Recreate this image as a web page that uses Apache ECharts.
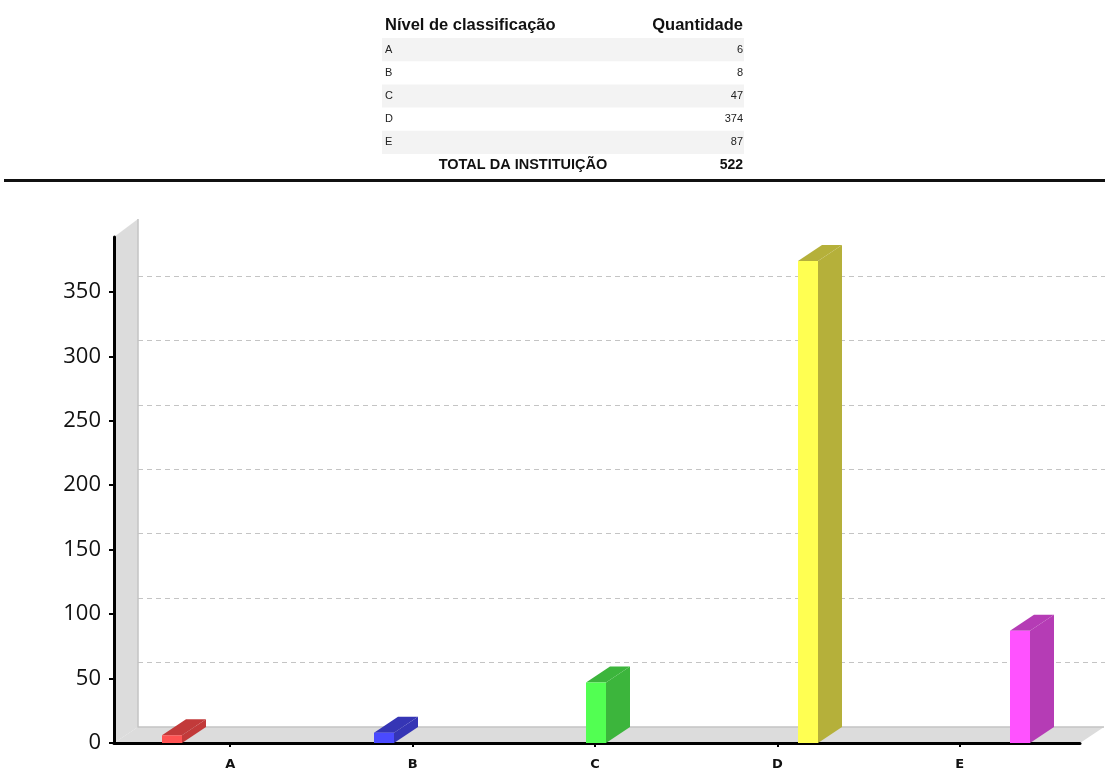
<!DOCTYPE html>
<html>
<head>
<meta charset="utf-8">
<script src="https://cdn.jsdelivr.net/npm/echarts@6/dist/echarts.min.js"></script>
<style>
  html, body { margin: 0; padding: 0; background: #fff; }
  #main { width: 1105px; height: 771px; }
</style>
</head>
<body>
<div id="main"></div>
<script>
// data
var categories = ['A', 'B', 'C', 'D', 'E'];
var values = [6, 8, 47, 374, 87];
var yTicks = [0, 50, 100, 150, 200, 250, 300, 350];
var headerLabels = ['Nível de classificação', 'Quantidade'];
var totalLabel = 'TOTAL DA INSTITUIÇÃO';
var frontColors = ['#ff5252', '#4a4aff', '#52ff52', '#ffff52', '#ff52ff'];
var sideColors = ['#c23a3a', '#3535b5', '#3cb53c', '#b5b03a', '#b53cb5'];

var yMax = 392.6;
var DX = 24, DY = 16;   // 3d depth offset
var plotTop = 237, plotH = 506, frontLeft = 114, frontRight = 1080;
var fontUI = '"Liberation Sans", Arial, sans-serif';

var myChart = echarts.init(document.getElementById('main'));

// table on top
var graphics = [];
var tL = 382, tR = 744, rowH = 23.2, firstRowTop = 38;
categories.forEach(function (c, i) {
  var top = firstRowTop + i * rowH;
  if (i % 2 === 0) {
    graphics.push({ type: 'rect', shape: { x: tL, y: top, width: tR - tL, height: rowH }, style: { fill: '#f3f3f3' }, silent: true });
  }
  graphics.push({ type: 'text', x: tL + 3, y: top + rowH / 2, style: { text: c, font: '11px ' + fontUI, fill: '#222', verticalAlign: 'middle' } });
  graphics.push({ type: 'text', x: tR - 1, y: top + rowH / 2, style: { text: String(values[i]), font: '11px ' + fontUI, fill: '#222', align: 'right', verticalAlign: 'middle' } });
});
graphics.push({ type: 'text', x: tL + 3, y: 25, style: { text: headerLabels[0], font: 'bold 16.5px ' + fontUI, fill: '#111', verticalAlign: 'middle' } });
graphics.push({ type: 'text', x: tR - 1, y: 25, style: { text: headerLabels[1], font: 'bold 16.5px ' + fontUI, fill: '#111', align: 'right', verticalAlign: 'middle' } });
var total = values.reduce(function (a, b) { return a + b; }, 0);
graphics.push({ type: 'text', x: 523, y: 165, style: { text: totalLabel, font: 'bold 14.5px ' + fontUI, fill: '#111', align: 'center', verticalAlign: 'middle' } });
graphics.push({ type: 'text', x: tR - 1, y: 165, style: { text: String(total), font: 'bold 14px ' + fontUI, fill: '#111', align: 'right', verticalAlign: 'middle' } });
graphics.push({ type: 'rect', shape: { x: 4, y: 179, width: 1101, height: 3 }, style: { fill: '#111' }, silent: true });

// wall and floor of the 3d box
var bot = plotTop + plotH;
graphics.push({ type: 'polygon', z: -1, shape: { points: [[frontLeft, plotTop], [frontLeft + DX, plotTop - DY - 2], [frontLeft + DX, bot - DY], [frontLeft, bot]] }, style: { fill: '#dcdcdc' }, silent: true });
graphics.push({ type: 'polygon', z: -1, shape: { points: [[frontLeft, bot], [frontLeft + DX, bot - DY], [frontRight + DX, bot - DY], [frontRight, bot]] }, style: { fill: '#dcdcdc' }, silent: true });
graphics.push({ type: 'polyline', z: -1, shape: { points: [[frontLeft + DX, plotTop - DY - 2], [frontLeft + DX, bot - DY], [frontRight + DX, bot - DY]] }, style: { stroke: '#c4c4c4', lineWidth: 1.5, fill: null }, silent: true });

function hiddenY(idx) {
  return { gridIndex: idx, type: 'value', min: 0, max: yMax, interval: 50, show: false, splitLine: { show: false } };
}

myChart.setOption({
  backgroundColor: '#fff',
  animation: false,
  graphic: graphics,
  grid: [
    { left: frontLeft, top: plotTop, width: frontRight - frontLeft, height: plotH },
    { left: frontLeft + DX, top: plotTop - DY, width: 1105 - frontLeft - DX, height: plotH },
    { left: 139, top: plotTop, width: 912, height: plotH },
    { left: 172, top: plotTop, width: 848, height: plotH }
  ],
  xAxis: [
    { gridIndex: 0, type: 'value', min: 0, max: 1, axisLine: { show: true, lineStyle: { color: '#000', width: 3 } }, axisTick: { show: false }, axisLabel: { show: false }, splitLine: { show: false } },
    { gridIndex: 1, type: 'value', min: 0, max: 1, show: false, splitLine: { show: false } },
    { gridIndex: 2, type: 'category', data: categories,
      axisLine: { show: false },
      axisTick: { show: true, alignWithLabel: true, length: 5, lineStyle: { color: '#000', width: 2 } },
      axisLabel: { fontSize: 13, fontWeight: 'bold', color: '#111', margin: 16, fontFamily: '"DejaVu Sans", sans-serif' } },
    { gridIndex: 3, type: 'category', data: categories, boundaryGap: false, show: false }
  ],
  yAxis: [
    { gridIndex: 0, type: 'value', min: 0, max: yMax, interval: 50,
      axisLine: { show: true, lineStyle: { color: '#000', width: 3 } },
      axisTick: { show: true, length: 5, customValues: yTicks, lineStyle: { color: '#000', width: 2 } },
      axisLabel: { customValues: yTicks, fontSize: 22, color: '#111', margin: 13, fontFamily: '"Open Sans", sans-serif' },
      splitLine: { show: false } },
    { gridIndex: 1, type: 'value', min: 0, max: yMax, interval: 50, show: true,
      axisLine: { show: false }, axisTick: { show: false }, axisLabel: { show: false },
      splitLine: { show: true, showMinLine: false, showMaxLine: false, lineStyle: { color: '#c4c4c4', type: [5, 4], width: 1 } } },
    hiddenY(2),
    hiddenY(3)
  ],
  series: [{
    type: 'custom',
    xAxisIndex: 3,
    yAxisIndex: 3,
    z: 5,
    data: values.map(function (v, i) { return [categories[i], v]; }),
    renderItem: function (params, api) {
      var i = params.dataIndex;
      var base = api.coord([api.value(0), 0]);
      var top = api.coord([api.value(0), api.value(1)]);
      var hw = 10;
      var x0 = base[0] - hw, x1 = base[0] + hw;
      return {
        type: 'group',
        children: [
          { type: 'polygon', shape: { points: [[x1, top[1]], [x1 + DX, top[1] - DY], [x1 + DX, base[1] - DY], [x1, base[1]]] }, style: { fill: sideColors[i] } },
          { type: 'polygon', shape: { points: [[x0, top[1]], [x0 + DX, top[1] - DY], [x1 + DX, top[1] - DY], [x1, top[1]]] }, style: { fill: sideColors[i] } },
          { type: 'rect', shape: { x: x0, y: top[1], width: x1 - x0, height: base[1] - top[1] }, style: { fill: frontColors[i] } }
        ]
      };
    }
  }]
});
</script>
</body>
</html>
